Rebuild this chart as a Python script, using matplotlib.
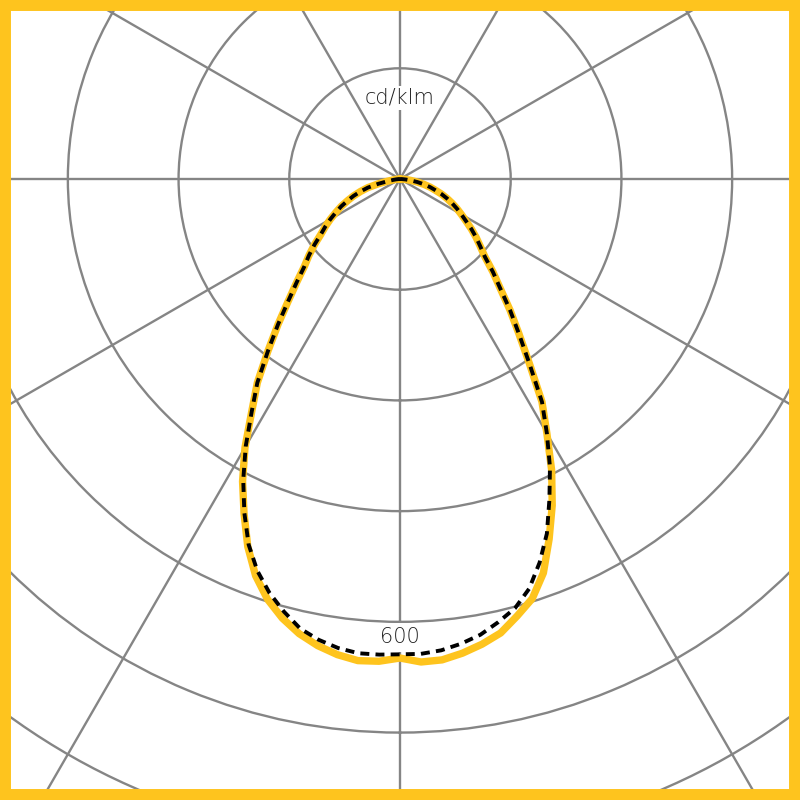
import numpy as np
import matplotlib
matplotlib.use("Agg")
import matplotlib.pyplot as plt
from matplotlib.patches import Rectangle

# gamma angles (deg) from nadir, same for every half-plane
gamma = [0, 2.5, 5, 7.5, 10, 12.5, 15, 17.5, 20, 22.5, 25, 27.5, 30,
         32.5, 35, 37.5, 40, 42.5, 45, 47.5, 50, 52.5, 55, 57.5, 60,
         62.5, 65, 67.5, 70, 72.5, 75, 77.5, 80, 82.5, 85, 87.5, 90]

# solid yellow curve (C0 right / C180 left), cd/klm
c0 = [649, 655, 654, 648, 640, 630, 613, 596, 568, 528, 488, 445, 398,
      358, 306, 265, 232, 201, 178, 156, 142, 130, 118, 106, 96,
      87, 78, 69, 60, 50, 42, 33, 24, 15, 8, 3, 0]
c180 = [649, 654, 655, 650, 642, 631, 616, 597, 572, 539, 500, 462, 420,
        374, 337, 294, 257, 224, 198, 176, 161, 146, 131, 120, 109,
        98, 88, 77, 67, 56, 45, 30, 17, 9, 5, 2, 0]

# dashed black curve (C90 right / C270 left), cd/klm
c90 = [644, 644, 641, 635, 627, 615, 602, 582, 553, 520, 479, 440, 398,
       358, 306, 265, 232, 201, 178, 156, 142, 130, 118, 106, 96,
       87, 78, 69, 60, 50, 42, 33, 24, 15, 8, 3, 0]
c270 = [644, 645, 645, 641, 634, 624, 607, 588, 565, 536, 499, 460, 418,
        374, 337, 294, 257, 224, 198, 176, 161, 146, 131, 120, 109,
        98, 88, 77, 67, 56, 45, 30, 17, 9, 5, 2, 0]

rings = [150, 300, 450, 600, 750, 900, 1050]
spokes = np.arange(0, 360, 30)

yellow = "#FEC41E"
grey = "#858585"

g = np.array(gamma)
theta = np.deg2rad(np.concatenate([-g[::-1], g[1:]]))
r_solid = np.concatenate([np.array(c180)[::-1], np.array(c0)[1:]])
r_dash = np.concatenate([np.array(c270)[::-1], np.array(c90)[1:]])

fig = plt.figure(figsize=(8, 8), dpi=100)
fig.patch.set_facecolor("white")

# polar axes much bigger than the figure, pole placed near the top
size = 1.9375
cx, cy = 0.5, 1 - 179 / 800
ax = fig.add_axes([cx - size / 2, cy - size / 2, size, size], projection="polar")
ax.set_theta_zero_location("S")
ax.set_theta_direction(1)
ax.set_rlim(0, rings[-1])
ax.set_rticks(rings)
ax.set_yticklabels([])
ax.set_xticks(np.deg2rad(spokes))
ax.set_xticklabels([])
ax.grid(True, color=grey, linewidth=1.7)
ax.spines["polar"].set_visible(False)
ax.set_facecolor("white")

ax.plot(theta, r_solid, color=yellow, linewidth=5.3, solid_joinstyle="round",
        solid_capstyle="round", zorder=5)
ax.plot(theta, r_dash, color="black", linewidth=2.8, dashes=(2.3, 1.6), zorder=6)

ax.text(np.pi, 110, "cd/klm", ha="center", va="center", fontsize=15,
        color="#222222", fontweight="light", zorder=4,
        bbox=dict(facecolor="white", edgecolor="none", pad=1.5))
ax.text(0, 621, "600", ha="center", va="center", fontsize=15,
        color="#222222", fontweight="light", zorder=4,
        bbox=dict(facecolor="white", edgecolor="none", pad=3))

# yellow frame round the picture
fig.patches.append(Rectangle((0, 0), 1, 1, transform=fig.transFigure,
                             fill=False, edgecolor=yellow, linewidth=15.8, zorder=10))

fig.savefig("out.png", dpi=100)
